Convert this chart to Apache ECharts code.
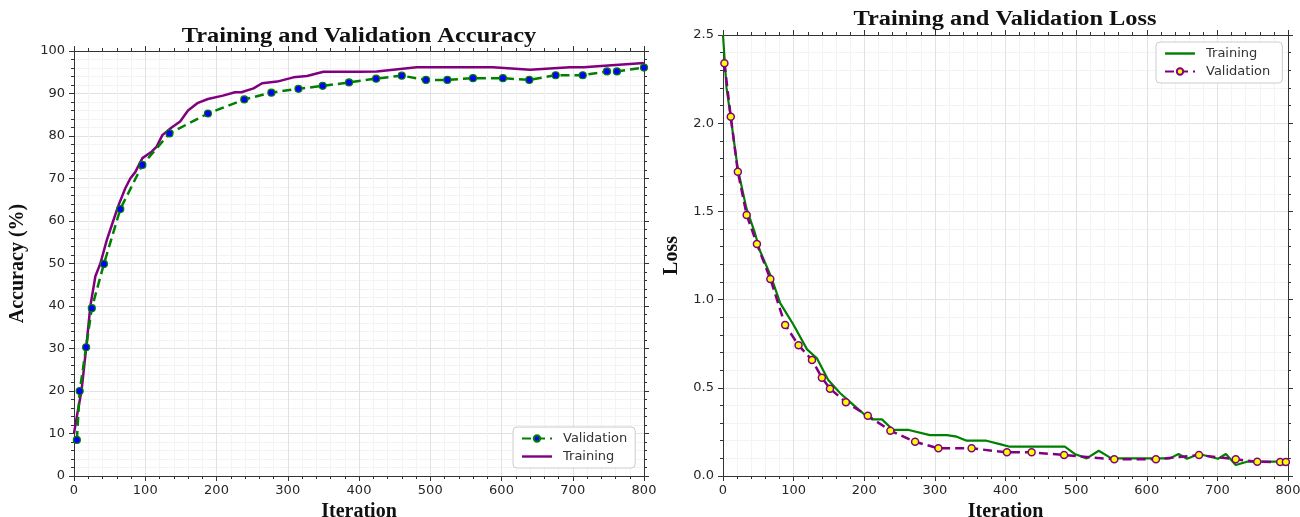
<!DOCTYPE html>
<html><head><meta charset="utf-8">
<script src="https://cdn.jsdelivr.net/npm/echarts@6/dist/echarts.min.js"></script>
<style>html,body{margin:0;padding:0;background:#fff;overflow:hidden}#c{width:1300px;height:517px}</style>
</head><body><div id="c"></div>
<script>
// ---- Data ----
const accTrainX = [0,5,10.5,17,23,30,37,46,53,62,72,79,86,96,109,116,124,137,149,160,174,188,209,226,235,252,264,285,308,327,350,400,425,481,588,640,696,715,800];
const accTrainY = [10,15,20,30,40,47,50,55.5,59,63.5,67.7,70,71.5,74.8,76.3,77.5,80.2,82,83.4,86,87.8,88.7,89.5,90.3,90.3,91.2,92.4,92.8,93.8,94.1,95.1,95.1,95.2,96.2,96.2,95.6,96.2,96.2,97.2];
const accValX = [4,8,17,25,42,65,96,134,188,239,277,315,349,386,424,460,494,524,560,602,639,676,714,748,762,800];
const accValY = [8.5,20,30.3,39.5,49.9,62.8,73.2,80.6,85.3,88.6,90.2,91.1,91.8,92.6,93.5,94.2,93.2,93.2,93.6,93.6,93.2,94.3,94.3,95.2,95.2,96.1];

const lossTrainX = [0,5,11,21,33,45,52,68,81,100,119,133,149,166,185,201,211,225,241,263,293,317,331,345,373,392,406,484,498,515,532,550,633,645,657,674,701,712,726,742,789,795];
const lossTrainY = [2.5,2.2,2.03,1.74,1.52,1.38,1.28,1.13,0.98,0.856,0.718,0.667,0.544,0.469,0.402,0.346,0.321,0.321,0.261,0.261,0.232,0.232,0.223,0.2,0.2,0.181,0.166,0.166,0.125,0.1,0.143,0.1,0.1,0.125,0.098,0.125,0.098,0.125,0.062,0.081,0.081,0.062];
const lossValX = [2,11,21,33.5,48,67,88,107,126,140,151.5,174,205,237,272,305,352,402,437,483,554,613,674,726,756.5,789,797];
const lossValY = [2.34,2.037,1.725,1.48,1.315,1.117,0.856,0.741,0.658,0.557,0.495,0.418,0.342,0.257,0.194,0.157,0.157,0.134,0.134,0.119,0.0945,0.0945,0.119,0.0945,0.081,0.079,0.079];

const xTicks = [0,100,200,300,400,500,600,700,800];
const accTicks = [0,10,20,30,40,50,60,70,80,90,100];
const lossTicks = [0.0,0.5,1.0,1.5,2.0,2.5];

const titles = ['Training and Validation Accuracy', 'Training and Validation Loss'];

const zip = (xs, ys) => xs.map((x, i) => [x, ys[i]]);

// ---- Styles ----
const labelFont = {fontFamily: 'DejaVu Sans', fontSize: 13, color: '#262626'};
const nameFont = {fontFamily: 'Liberation Serif', fontWeight: 'bold', fontSize: 20, color: '#111'};
const axisLine = {show: true, onZero: false, lineStyle: {color: '#333', width: 1}};
const splitLine = {show: true, lineStyle: {color: '#e2e2e2', width: 1}};
const minorSplit = {show: true, lineStyle: {color: '#f3f3f3', width: 1}};
const tick = {show: true, inside: false, length: 5, lineStyle: {color: '#333'}};
const minorTick = {show: true, splitNumber: 5, length: 3, lineStyle: {color: '#333'}};

function xAx(gi, ticks, main) {
  return {
    type: 'value', gridIndex: gi, min: ticks[0], max: ticks[ticks.length - 1],
    interval: ticks[1] - ticks[0], position: main ? 'bottom' : 'top',
    axisLine, axisTick: tick, minorTick,
    axisLabel: main ? Object.assign({show: true, margin: 8}, labelFont) : {show: false},
    splitLine: main ? splitLine : {show: false},
    minorSplitLine: main ? minorSplit : {show: false},
    name: main ? 'Iteration' : '', nameLocation: 'middle', nameGap: 24, nameTextStyle: nameFont
  };
}
function yAx(gi, ticks, main, name, gap, fmt) {
  return {
    type: 'value', gridIndex: gi, min: ticks[0], max: ticks[ticks.length - 1],
    interval: ticks[1] - ticks[0], position: main ? 'left' : 'right',
    axisLine, axisTick: tick, minorTick,
    axisLabel: main ? Object.assign({show: true, margin: 9, formatter: fmt}, labelFont) : {show: false},
    splitLine: main ? splitLine : {show: false},
    minorSplitLine: main ? minorSplit : {show: false},
    name: main ? name : '', nameLocation: 'middle', nameGap: gap, nameRotate: 90, nameTextStyle: nameFont
  };
}

const lineIcon = 'path://M0,0 L30,0 L30,2.4 L0,2.4 Z';
const legendBase = {
  orient: 'vertical', padding: [5, 8, 5, 8], itemGap: 5, itemWidth: 30, itemHeight: 8,
  borderColor: '#ccc', borderWidth: 1, borderRadius: 4, backgroundColor: '#fff',
  textStyle: {fontFamily: 'DejaVu Sans', fontSize: 13, color: '#333', padding: [0, 0, 0, 6]}
};

const chart = echarts.init(document.getElementById('c'), null, {renderer: 'canvas', width: 1300, height: 517});
chart.setOption({
  animation: false,
  backgroundColor: '#fff',
  graphic: [
    {type: 'text', x: 359, y: 37, scaleX: 1.22,
     style: {text: titles[0], font: 'bold 20px "Liberation Serif"', fill: '#111', textAlign: 'center', textVerticalAlign: 'middle'}},
    {type: 'text', x: 1005, y: 20, scaleX: 1.22,
     style: {text: titles[1], font: 'bold 20px "Liberation Serif"', fill: '#111', textAlign: 'center', textVerticalAlign: 'middle'}}
  ],
  grid: [
    {left: 74, right: 656, top: 51, bottom: 41, outerBoundsMode: 'none', containLabel: false},
    {left: 723, right: 12, top: 35, bottom: 41, outerBoundsMode: 'none', containLabel: false}
  ],
  xAxis: [xAx(0, xTicks, true), xAx(0, xTicks, false), xAx(1, xTicks, true), xAx(1, xTicks, false)],
  yAxis: [
    yAx(0, accTicks, true, 'Accuracy (%)', 46, v => String(v)),
    yAx(0, accTicks, false),
    yAx(1, lossTicks, true, 'Loss', 41, v => v.toFixed(1)),
    yAx(1, lossTicks, false)
  ],
  legend: [
    Object.assign({left: 513, top: 427, data: ['Validation', {name: 'Training', icon: lineIcon}]}, legendBase),
    Object.assign({left: 1156, top: 42, data: [{name: 'Training ', icon: lineIcon}, 'Validation ']}, legendBase)
  ],
  series: [
    {name: 'Training', type: 'line', xAxisIndex: 0, yAxisIndex: 0, data: zip(accTrainX, accTrainY),
     showSymbol: false, symbol: 'none', lineStyle: {color: '#800080', width: 2.5}, itemStyle: {color: '#800080'}, z: 3},
    {name: 'Validation', type: 'line', xAxisIndex: 0, yAxisIndex: 0, data: zip(accValX, accValY),
     symbol: 'circle', symbolSize: 7, showSymbol: true,
     lineStyle: {color: '#008000', width: 2.5, type: [9, 5]},
     itemStyle: {color: '#0000ff', borderColor: '#008000', borderWidth: 1.2}, z: 4},
    {name: 'Training ', type: 'line', xAxisIndex: 2, yAxisIndex: 2, data: zip(lossTrainX, lossTrainY),
     showSymbol: false, symbol: 'none', lineStyle: {color: '#008000', width: 2.2}, itemStyle: {color: '#008000'}, z: 3},
    {name: 'Validation ', type: 'line', xAxisIndex: 2, yAxisIndex: 2, data: zip(lossValX, lossValY),
     symbol: 'circle', symbolSize: 7, showSymbol: true,
     lineStyle: {color: '#800080', width: 2.5, type: [9, 5]},
     itemStyle: {color: '#ffff00', borderColor: '#800080', borderWidth: 1.5}, z: 4}
  ]
});
</script>
</body></html>
